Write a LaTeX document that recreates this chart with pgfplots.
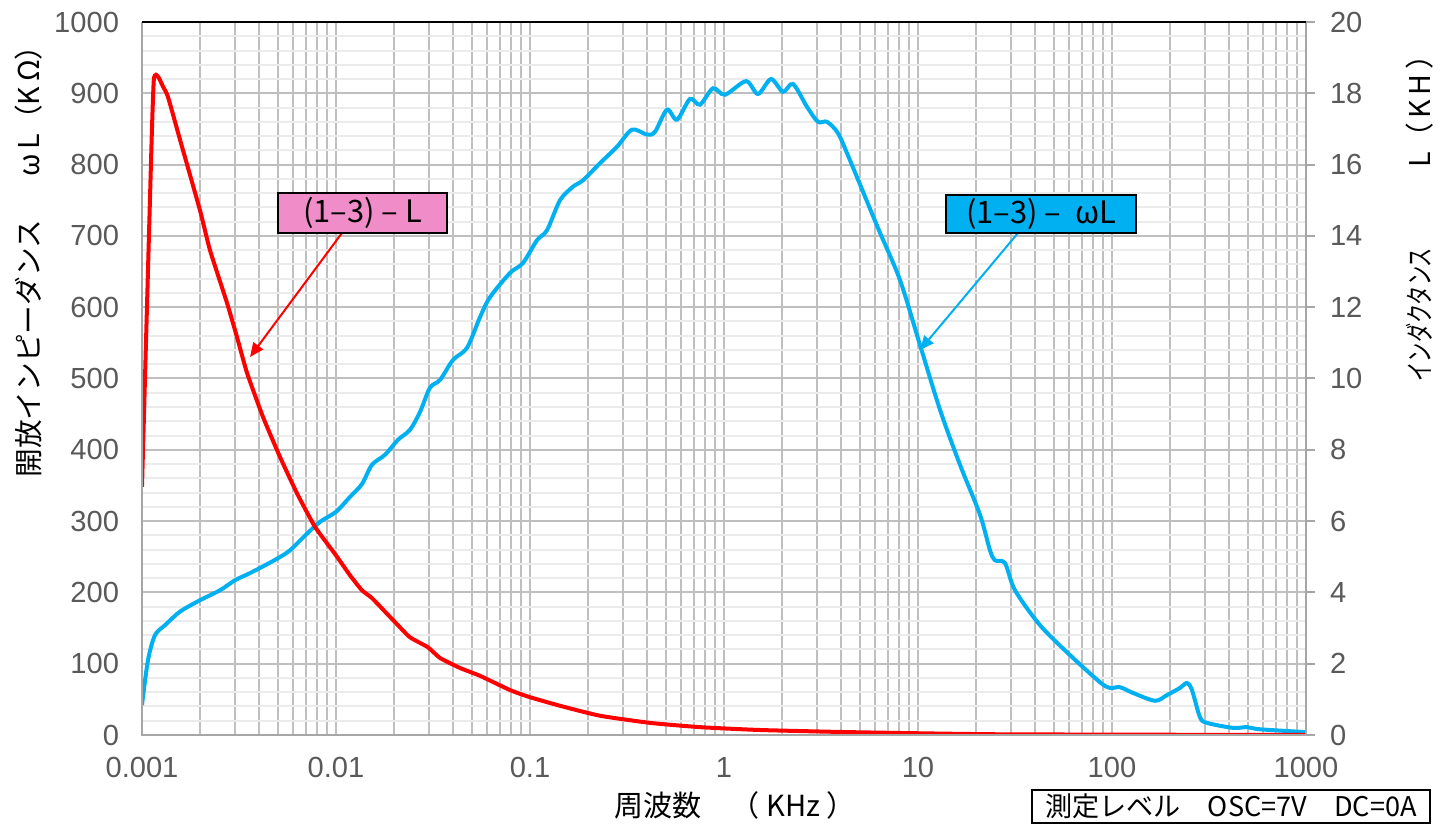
\documentclass[border=0pt]{standalone}
\usepackage{fontspec}
\setmainfont{Liberation Sans}
\newfontfamily\jp{Noto Sans CJK JP}
\usepackage{graphicx}
\usepackage{pgfplots}
\pgfplotsset{compat=1.18}
\usetikzlibrary{arrows.meta}
\definecolor{exblue}{RGB}{0,176,240}
\definecolor{expink}{RGB}{240,140,200}
\definecolor{gridgray}{RGB}{191,191,191}
\definecolor{faintgray}{RGB}{235,235,235}
\definecolor{ticktxt}{RGB}{89,89,89}
\definecolor{axgray}{RGB}{166,166,166}

% (1-3) - omega L, left axis [kOhm]
\pgfplotstableread{
f wl
0.001000 42
0.001074 105
0.001167 140
0.001314 154
0.00157 173
0.00199 189
0.002524 203
0.003015 217
0.003603 227
0.004306 238
0.005023 248
0.005793 259
0.007005 281
0.008271 299
0.01 313
0.01181 334
0.01361 352
0.01533 379
0.01789 393
0.02087 414
0.02406 428
0.0271 453
0.03051 487
0.03437 498
0.0401 526
0.04735 543
0.05525 586
0.06221 614
0.07888 648
0.0920 662
0.1087 694
0.1224 708
0.1428 750
0.1666 769
0.1876 778
0.2295 802
0.2808 825
0.3356 849
0.4010 842
0.4410 846
0.5084 877
0.5725 863
0.6679 892
0.7521 884
0.8775 907
1.012 898
1.299 917
1.497 899
1.747 920
2.014 902
2.268 913
2.679 881
3.051 860
3.395 860
3.869 844
4.462 806
6.221 711
8.077 638
10.24 547
12.99 456
16.46 379
20.87 309
23.50 259
24.94 245
28.08 241
31.62 203
42.56 154
60.75 112
86.75 74
97.65 66
110.0 67
128.3 59
166.6 48
192.1 56
224.1 66
243.5 73
258.4 63
284.2 25
308.9 17
420.4 10
496.5 11
579.3 8
1000 4
}\wltable

% (1-3) - L, drawn in left-axis units (right axis = /50)
\pgfplotstableread{
f l
0.001 348
0.00112 830
0.00115 918
0.00118 926
0.00122 922
0.00128 910
0.001361 895
0.00157 835
0.00199 736
0.002241 680
0.002743 606
0.003089 558
0.003477 508
0.004205 446
0.005144 390
0.006295 339
0.007795 292
0.01 252
0.01181 224
0.01361 203
0.01533 192
0.01789 173
0.02087 154
0.02406 137
0.02980 123
0.03437 108
0.04357 94
0.05525 83
0.07888 63
0.1 53
0.1428 41
0.2295 27
0.4156 17
0.7521 11
1.533 7
4.462 4
26.47 1
1000 0
}\ltable

\begin{document}
\begin{tikzpicture}
\useasboundingbox (-71bp,-48bp) rectangle (653bp,367.5bp);
\begin{semilogxaxis}[
  at={(0,0)}, anchor=south west, scale only axis,
  width=582bp, height=356.5bp,
  xmin=0.001, xmax=1000, ymin=0, ymax=1000,
  xtick={0.001,0.01,0.1,1,10,100,1000},
  xticklabels={0.001,0.01,0.1,1,10,100,1000},
  ytick={0,100,...,1000},
  extra y ticks={20,40,60,80,120,140,160,180,220,240,260,280,320,340,360,380,
    420,440,460,480,520,540,560,580,620,640,660,680,720,740,760,780,
    820,840,860,880,920,940,960,980},
  extra y tick labels={},
  extra y tick style={major grid style={faintgray, line width=1bp}},
  xmajorgrids, xminorgrids, ymajorgrids,
  major grid style={gridgray, line width=1bp},
  minor grid style={gridgray, line width=1bp},
  major tick length=0pt, minor tick length=0pt,
  axis line style={draw=none},
  /pgf/number format/assume math mode=true,
  /pgf/number format/1000 sep={},
  tick label style={font=\fontsize{14.6}{16}\selectfont, text=ticktxt},
  xticklabel style={yshift=-7.5bp},
  yticklabel style={xshift=-8bp},
]
\addplot[exblue, line width=2bp, smooth, tension=0.5] table[x=f, y=wl] {\wltable};
\addplot[red, line width=2bp, smooth, tension=0.3] table[x=f, y=l] {\ltable};
\end{semilogxaxis}
\begin{axis}[
  at={(0,0)}, anchor=south west, scale only axis,
  width=582bp, height=356.5bp,
  xmin=0, xmax=1, ymin=0, ymax=20,
  ytick={0,2,...,20},
  axis y line*=right, hide x axis,
  y axis line style={draw=none},
  tick align=outside, major tick length=4.5bp,
  tick style={axgray, line width=1bp},
  /pgf/number format/assume math mode=true,
  tick label style={font=\fontsize{14.6}{16}\selectfont, text=ticktxt},
  yticklabel style={xshift=4bp},
]
\addplot[draw=none] coordinates {(0,0)};
\end{axis}
% frame
\draw[axgray, line width=1bp] (0,356.5bp) -- (0,0) -- (582bp,0) -- (582bp,356.5bp);
\draw[black, line width=1.2bp] (0,356.5bp) -- (582bp,356.5bp);
% axis titles
\node[rotate=90, font=\jp\fontsize{14.4}{16}\selectfont] at (-56.5bp,128.5bp+0.5*223.5bp)
  {開放インピーダンス\hspace{1.5em}ω\,L（K\,Ω）};
\node[rotate=90, font=\jp\fontsize{14.4}{16}\selectfont] at (639bp,262bp)
  {\scalebox{0.67}[1]{インダクタンス}\hspace{2.8em}L（\,K\,H\,）};
\node[font=\jp\fontsize{14.6}{16}\selectfont] at (296.5bp,-35bp) {周波数　（ KHz ）};
\node[draw=black, line width=0.8bp, minimum width=199bp, minimum height=16.5bp,
  inner sep=0pt, font=\jp\fontsize{13.6}{16}\selectfont] at (544.5bp,-35.75bp)
  {測定レベル　OSC=7V　DC=0A};
% callouts
\draw[red, line width=1bp, -{Triangle[length=7bp,width=6bp]}] (100bp,251bp) -- (54bp,189bp);
\node[draw=black, line width=1bp, fill=expink, minimum width=84.5bp, minimum height=20bp,
  inner sep=0pt, font=\jp\fontsize{15.5}{16}\selectfont] at (110.25bp,261bp) {(1–3) – L};
\draw[exblue, line width=1bp, -{Triangle[length=7bp,width=6bp]}] (438bp,251bp) -- (389bp,192.5bp);
\node[draw=black, line width=1bp, fill=exblue, minimum width=95bp, minimum height=19bp,
  inner sep=0pt, font=\jp\fontsize{15.5}{16}\selectfont] at (449.5bp,260.5bp) {(1–3) – \ ωL};
\end{tikzpicture}
\end{document}
